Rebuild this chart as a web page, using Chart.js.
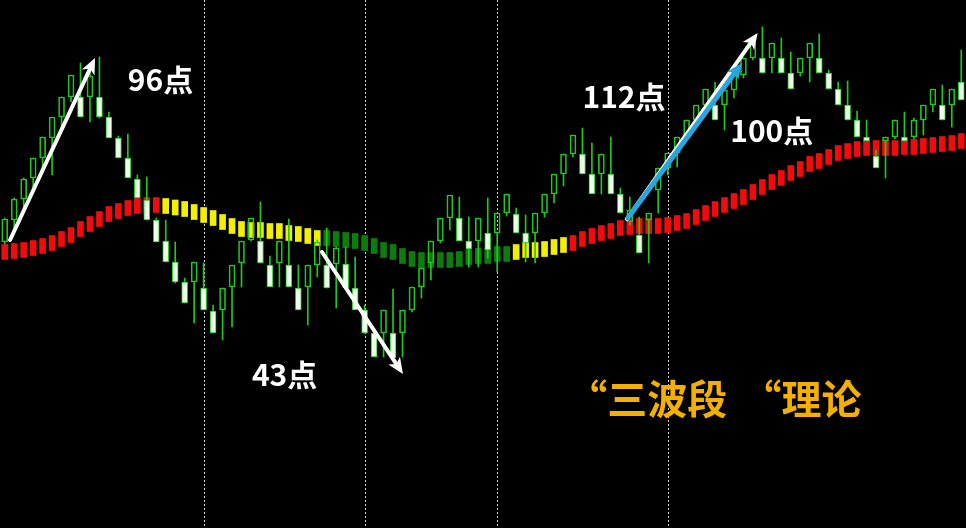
<!DOCTYPE html>
<html>
<head>
<meta charset="utf-8">
<script src="https://cdn.jsdelivr.net/npm/chart.js@4.4.0/dist/chart.umd.min.js"></script>
<style>
  html, body { margin: 0; padding: 0; background: #000; }
  #wrap { width: 966px; height: 528px; position: relative; }
</style>
</head>
<body>
<div id="wrap"><canvas id="chart"></canvas></div>
<script>
// OHLC in points, one entry per bar (102 bars)
const opens = [
  286,308,329,350,370,390,411,431,431,431,
  431,411,390,370,349,328,308,287,266,246,
  246,240,217,218,241,265,288,287,263,265,
  263,240,241,263,263,264,264,240,218,195,
  195,195,195,218,241,265,287,310,310,287,
  287,295,295,315,314,295,295,315,334,354,
  374,374,354,354,354,334,306,293,308,338,
  360,375,391,408,423,423,423,438,453,470,
  470,470,470,455,455,470,470,455,439,423,
  408,391,372,387,391,391,391,408,423,423,
  423,446
];
const highs = [
  310,330,350,370,391,411,431,453,465,464,
  471,416,392,394,353,351,310,308,286,250,
  266,265,223,240,263,287,310,326,272,287,
  309,263,263,288,300,281,281,271,223,198,
  218,239,218,241,260,287,310,333,331,311,
  310,330,315,334,320,313,315,334,354,374,
  393,400,385,374,391,340,331,311,315,360,
  375,391,408,423,439,446,438,453,470,485,
  501,485,490,476,470,485,494,458,446,447,
  417,408,378,391,408,416,410,423,439,443,
  439,478
];
const lows = [
  284,300,321,341,358,353,401,426,411,406,
  410,390,370,350,330,308,286,266,245,225,
  205,218,195,188,201,241,287,265,241,241,
  241,218,203,251,240,220,240,218,195,171,
  171,170,171,216,230,248,285,298,287,261,
  261,270,256,312,295,266,265,311,325,342,
  371,354,334,334,334,315,303,275,265,315,
  353,361,388,404,420,408,398,430,450,468,
  455,455,455,439,452,446,455,439,423,408,
  391,387,360,350,389,387,389,393,416,408,
  401,428
];
const closes = [
  309,329,349,370,391,411,431,453,411,452,
  411,390,370,350,330,308,286,266,246,225,
  266,218,195,240,263,287,310,265,241,287,
  241,218,263,286,240,280,240,218,195,171,
  218,170,218,241,260,287,310,333,287,279,
  310,278,315,334,295,285,315,334,354,374,
  393,354,334,374,334,315,318,275,315,360,
  375,391,408,423,439,408,438,453,470,485,
  455,485,455,439,470,485,455,439,423,408,
  391,387,360,391,408,387,408,423,439,408,
  439,428
];

// trend indicator line (points) and its state runs
const maLine = [
  276,277,278,280,282,285,289,293,299,304,
  309,314,317,320,322,323,323,322,320.5,319,
  316,313,310,306,302,299,298,298,297,297,
  295,294,292,290,290,289,288,287,285,282,
  278,276,272,269,268,268,268,268,269,271,
  272,272,274,274,276,278,278,279,281,283,
  285,289,292,295,297,300,301,302,302,302,
  303,305,307,311,315,319,323,327,331,336,
  341,346,350,355,359,364,367,371,375,377,
  379,380,380,380,380,381,381,382,383,384,
  385,387
];
const maTrend = [['up', 17], ['flat', 17], ['down', 20], ['flat', 6], ['up', 42]];

// period separators (bar index)
const separators = [21, 38, 52, 70];

// wave arrows: [fromBar, fromValue, toBar, toValue, kind]
const waveArrows = [
  [0.56, 288, 9.53, 470, 'white'],
  [33.5, 276, 42.05, 154, 'white'],
  [65.7, 309, 79.5, 495, 'white'],
  [65.8, 310, 77.85, 465, 'blue']
];

// labels: [text, bar, value, kind]
const waveNotes = [
  ['96点', 13.0, 448, 'note'],
  ['43点', 26.1, 153, 'note'],
  ['112点', 61.0, 431, 'note'],
  ['100点', 76.6, 397, 'note'],
  ['“三波段', 59.4, 129, 'title'],
  ['“理论', 77.8, 129, 'title']
];

const barLabels = opens.map((_, i) => String(i + 1));

const trendColors = { up: '#f00c0c', flat: '#f3ef00', down: '#0c7c0c' };
const maStates = [];
maTrend.forEach(([state, n]) => { for (let i = 0; i < n; i++) maStates.push(state); });

const CANDLE_GREEN = '#1fc81f';
const BEAR_FILL = '#eefdea';
const MA_HALF = 7.5;

function drawArrow(ctx, x1, y1, x2, y2, color, width) {
  const ang = Math.atan2(y2 - y1, x2 - x1);
  const head = 16, half = 7;
  const bx = x2 - head * Math.cos(ang);
  const by = y2 - head * Math.sin(ang);
  ctx.strokeStyle = color;
  ctx.lineWidth = width;
  ctx.lineCap = 'round';
  ctx.beginPath();
  ctx.moveTo(x1, y1);
  ctx.lineTo(bx + 3 * Math.cos(ang), by + 3 * Math.sin(ang));
  ctx.stroke();
  ctx.fillStyle = color;
  ctx.beginPath();
  ctx.moveTo(x2, y2);
  ctx.lineTo(bx + half * Math.sin(ang), by - half * Math.cos(ang));
  ctx.lineTo(bx + 4 * Math.cos(ang), by + 4 * Math.sin(ang));
  ctx.lineTo(bx - half * Math.sin(ang), by + half * Math.cos(ang));
  ctx.closePath();
  ctx.fill();
}

const overlay = {
  id: 'overlay',
  beforeDatasetsDraw(chart) {
    const { ctx, chartArea, scales: { x } } = chart;
    ctx.save();
    ctx.strokeStyle = '#cfcfcf';
    ctx.lineWidth = 1;
    ctx.setLineDash([2, 2]);
    separators.forEach(i => {
      const px = Math.round(x.getPixelForValue(i)) + 0.5;
      ctx.beginPath();
      ctx.moveTo(px, chartArea.top);
      ctx.lineTo(px, chartArea.bottom);
      ctx.stroke();
    });
    ctx.restore();
  },
  afterDatasetsDraw(chart) {
    const { ctx, scales: { x, y } } = chart;
    ctx.save();
    waveArrows.forEach(([b1, v1, b2, v2, kind]) => {
      const color = kind === 'blue' ? '#27a6df' : '#ffffff';
      drawArrow(ctx, x.getPixelForValue(b1), y.getPixelForValue(v1),
        x.getPixelForValue(b2), y.getPixelForValue(v2), color, kind === 'blue' ? 5 : 4);
    });
    ctx.textAlign = 'left';
    ctx.textBaseline = 'middle';
    waveNotes.forEach(([text, bar, value, kind]) => {
      if (kind === 'title') {
        ctx.font = 'bold 40px "Noto Sans CJK SC"';
        ctx.fillStyle = '#f4b000';
      } else {
        ctx.font = 'bold 30px "Noto Sans CJK SC"';
        ctx.fillStyle = '#ffffff';
      }
      ctx.fillText(text, x.getPixelForValue(bar), y.getPixelForValue(value));
    });
    ctx.restore();
  }
};

const isBull = i => closes[i] >= opens[i];

new Chart(document.getElementById('chart').getContext('2d'), {
  type: 'bar',
  data: {
    labels: barLabels,
    datasets: [
      {
        label: 'trend',
        data: maLine.map(v => [v - MA_HALF, v + MA_HALF]),
        backgroundColor: maStates.map(s => trendColors[s]),
        barThickness: 6,
        grouped: false,
        order: 4
      },
      {
        label: 'upper wick',
        data: highs.map((h, i) => [Math.max(opens[i], closes[i]), h]),
        backgroundColor: CANDLE_GREEN,
        barThickness: 1,
        grouped: false,
        order: 3
      },
      {
        label: 'lower wick',
        data: lows.map((l, i) => [l, Math.min(opens[i], closes[i])]),
        backgroundColor: CANDLE_GREEN,
        barThickness: 1,
        grouped: false,
        order: 2
      },
      {
        label: 'body',
        data: opens.map((o, i) => [o, closes[i]]),
        backgroundColor: opens.map((_, i) => isBull(i) ? 'rgba(0,0,0,0)' : BEAR_FILL),
        borderColor: CANDLE_GREEN,
        borderWidth: 1,
        borderSkipped: false,
        barThickness: 6,
        grouped: false,
        order: 1
      }
    ]
  },
  options: {
    responsive: true,
    maintainAspectRatio: false,
    animation: false,
    layout: { padding: 0 },
    plugins: {
      legend: { display: false },
      tooltip: { enabled: false }
    },
    scales: {
      x: { display: false, offset: true, grid: { display: false } },
      y: { display: false, min: 0, max: 528 }
    }
  },
  plugins: [overlay]
});
</script>
</body>
</html>
